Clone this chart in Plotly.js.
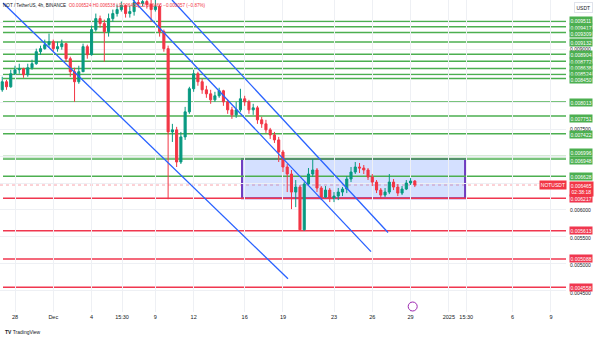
<!DOCTYPE html>
<html>
<head>
<meta charset="utf-8">
<script src="https://cdn.plot.ly/plotly-3.0.1.min.js"></script>
<style>
html,body{margin:0;padding:0;background:#fff;}
#chart{width:600px;height:338px;}
</style>
</head>
<body>
<div id="chart"></div>
<script>
// ---------- DATA (NOT / TetherUS, 8h-grouped candles) ----------
const firstCandle = '2024-11-27 00:00';
const candleHours = 8;
const firstOpen = 0.008240;
const closes = [
0.008390,0.008296,0.008539,0.008614,0.008633,0.008521,0.008651,0.008726,0.008950,0.009007,
0.009081,0.009137,0.009007,0.009044,0.009100,0.008820,0.008577,0.008390,0.008577,0.009044,
0.008894,0.009362,0.009567,0.009474,0.009324,0.009567,0.009661,0.009735,0.009810,0.009661,
0.009698,0.009866,0.009848,0.009885,0.009829,0.009735,0.009791,0.009324,0.009007,0.007455,
0.007493,0.006894,0.007362,0.007829,0.008259,0.008539,0.008390,0.008240,0.008165,0.008053,
0.008128,0.008222,0.008016,0.007866,0.007773,0.007866,0.008072,0.008016,0.007866,0.007904,
0.007680,0.007605,0.007493,0.007399,0.007306,0.007081,0.006801,0.006670,0.006334,0.006427,
0.005630,0.006483,0.006670,0.006745,0.006409,0.006240,0.006371,0.006221,0.006259,0.006334,
0.006390,0.006577,0.006707,0.006801,0.006782,0.006745,0.006614,0.006520,0.006371,0.006278,
0.006334,0.006520,0.006427,0.006315,0.006390,0.006502,0.006539,0.006465];
const highs = [
0.008483,0.008427,0.008614,0.008689,0.008726,0.008651,0.008726,0.008801,0.009007,0.009063,
0.009175,0.009287,0.009175,0.009137,0.009175,0.009119,0.008857,0.008651,0.008689,0.009100,
0.009081,0.009436,0.009661,0.009623,0.009549,0.009661,0.009735,0.009829,0.009885,0.009829,
0.009810,0.009941,0.009960,0.009978,0.009941,0.009922,0.009922,0.009829,0.009362,0.009063,
0.007605,0.007549,0.007455,0.007922,0.008296,0.008614,0.008577,0.008446,0.008315,0.008240,
0.008203,0.008278,0.008240,0.008053,0.007922,0.008016,0.008259,0.008128,0.008053,0.007979,
0.007941,0.007736,0.007680,0.007530,0.007455,0.007362,0.007119,0.006857,0.006745,0.006558,
0.006465,0.006520,0.006782,0.006951,0.006782,0.006446,0.006446,0.006409,0.006334,0.006409,
0.006427,0.006633,0.006801,0.006894,0.006876,0.006838,0.006782,0.006670,0.006558,0.006409,
0.006409,0.006670,0.006577,0.006483,0.006446,0.006558,0.006595,0.006558];
const lows = [
0.008203,0.008240,0.008278,0.008521,0.008539,0.008464,0.008483,0.008614,0.008707,0.008894,
0.008988,0.009025,0.008950,0.008950,0.008988,0.008764,0.008483,0.008016,0.008352,0.008577,
0.008820,0.008876,0.009324,0.009399,0.008764,0.009231,0.009511,0.009605,0.009698,0.009586,
0.009586,0.009623,0.009773,0.009791,0.009754,0.009511,0.009698,0.009231,0.008950,0.006200,
0.007268,0.006801,0.006857,0.007306,0.007792,0.008203,0.008315,0.008165,0.008091,0.007979,
0.008016,0.008091,0.007941,0.007792,0.007698,0.007717,0.007829,0.007941,0.007792,0.007773,
0.007605,0.007530,0.007437,0.007324,0.007249,0.006894,0.006707,0.006334,0.006016,0.006053,
0.005613,0.005613,0.006446,0.006614,0.006334,0.006184,0.006221,0.006147,0.006147,0.006184,
0.006259,0.006315,0.006520,0.006670,0.006689,0.006670,0.006558,0.006446,0.006315,0.006221,
0.006240,0.006296,0.006371,0.006259,0.006278,0.006371,0.006465,0.006427];

// Horizontal levels drawn on the chart
const greenLevels = [0.009511,0.009417,0.009309,0.009132,0.008904,0.008772,0.008638,0.008524,0.008450,0.008013,0.007751,0.007422,0.006996,0.006948,0.006628];
const redLevels = [0.006217,0.005613,0.005088,0.004558];
const levelStart = '2024-11-27 01:26';
const levelEnd = '2025-01-10 04:21';

// Trend lines (time, price)
const trendLines = [
  {t:['2024-11-27 01:26','2024-12-19 09:29'], p:[0.009858,0.004717]},
  {t:['2024-12-07 05:57','2024-12-25 21:35'], p:[0.009914,0.005224]},
  {t:['2024-12-10 07:18','2024-12-27 05:34'], p:[0.009914,0.005580]}
];
// Range box
const boxTime = ['2024-12-15 19:00','2025-01-02 06:29'];
const boxPrice = [0.006217,0.006948];

// Current price
const lastPrice = 0.006465;
const countdown = '02:38:18';
const symbolTag = 'NOTUSDT';
const headerSymbol = 'NOT / TetherUS, 4h, BINANCE';
const headerOHLC = 'O0.006524 H0.006538 L0.006452 C0.006465 −0.000057 (−0.87%)';

// Time axis ticks
const xTickVals = ['2024-11-28','2024-12-01','2024-12-04','2024-12-06 09:15','2024-12-09','2024-12-12','2024-12-16','2024-12-19','2024-12-23','2024-12-26','2024-12-29','2025-01-01','2025-01-02 08:40','2025-01-06','2025-01-09'];
const xTickText = ['28','Dec','4','15:30','9','12','16','19','23','26','29','2025','15:30','6','9'];
// Price axis grid values and the plain price labels visible on the scale
const yGridVals = [0.0045,0.0050,0.0055,0.0060,0.0065,0.0070,0.0075,0.0080,0.0085,0.0090,0.0095];
const yPlainLabels = [0.0090,0.0075,0.0070,0.0060,0.0055,0.0050,0.0045];

// ---------- BUILD ----------
function addHours(str, h){
  const [d,tm] = str.split(' ');
  const [Y,M,D] = d.split('-').map(Number);
  const [hh,mm] = tm.split(':').map(Number);
  const dt = new Date(Date.UTC(Y,M-1,D,hh,mm) + h*3600000);
  return dt.toISOString().slice(0,16).replace('T',' ');
}
const times = closes.map((_,i)=>addHours(firstCandle, i*candleHours));
const opens = [firstOpen].concat(closes.slice(0,-1));

const GREEN='#089981', RED='#f23645', LGREEN='#4caf50', LRED='#f0374f', BLUE='#2962ff', PURPLE='#6f3cc0';
const FONT='Liberation Sans, Arial, sans-serif';

const traces = [{
  type:'candlestick', x:times, open:opens, high:highs, low:lows, close:closes,
  increasing:{line:{color:GREEN,width:1}, fillcolor:GREEN},
  decreasing:{line:{color:RED,width:1}, fillcolor:RED},
  whiskerwidth:0, hoverinfo:'skip'
}];

const shapes = [];
const annotations = [];

shapes.push({type:'rect', xref:'x', yref:'y', x0:boxTime[0], x1:boxTime[1], y0:boxPrice[0], y1:boxPrice[1],
  fillcolor:'rgba(41,98,255,0.20)', line:{color:PURPLE,width:2}, layer:'below'});

greenLevels.forEach(v=>{
  shapes.push({type:'line', xref:'x', yref:'y', x0:levelStart, x1:levelEnd, y0:v, y1:v, line:{color:LGREEN,width:1.5}, layer:'below'});
});
redLevels.forEach(v=>{
  shapes.push({type:'line', xref:'x', yref:'y', x0:levelStart, x1:levelEnd, y0:v, y1:v, line:{color:LRED,width:1.5}, layer:'below'});
});
shapes.push({type:'line', xref:'paper', yref:'y', x0:0, x1:1, y0:lastPrice, y1:lastPrice, line:{color:'rgba(242,54,69,0.45)',width:1,dash:'dot'}, layer:'below'});

trendLines.forEach(l=>{
  shapes.push({type:'line', xref:'x', yref:'y', x0:l.t[0], x1:l.t[1], y0:l.p[0], y1:l.p[1], line:{color:BLUE,width:1.3}});
});

// small clock icon at bottom of pane
shapes.push({type:'circle', xref:'x', yref:'paper', xsizemode:'pixel', ysizemode:'pixel',
  xanchor:'2024-12-29 04:00', yanchor:0, x0:-4.5, x1:4.5, y0:1, y1:10, line:{color:'#9c27b0',width:1}, fillcolor:'#fff'});

// plain scale labels first (colored labels are drawn on top of them)
const plainShift = {0.0090:0, 0.0075:1, 0.0070:2, 0.0060:0, 0.0055:-1.5, 0.0050:-1.5, 0.0045:-2.5};
yPlainLabels.forEach(v=>{
  annotations.push({xref:'paper', yref:'y', x:1, y:v, xanchor:'left', yanchor:'middle', xshift:3,
    yshift: plainShift[v]||0, text:v.toFixed(6), showarrow:false, borderpad:0,
    font:{family:FONT,size:5,color:'#131722'}});
});

const labelShift = {0.009511:1.5,0.009417:-0.5,0.009309:-1,0.009132:-1,0.008904:0,0.008638:1,0.008524:1,0.008450:-1,0.008013:-0.5,0.007751:-2.5,0.007422:-0.5,0.006996:4,0.006948:-1};
function priceLabel(v,bg){
  annotations.push({xref:'paper', yref:'y', x:1, y:v, xanchor:'left', yanchor:'middle', xshift:3,
    yshift: labelShift[v]||0, text:v.toFixed(6), showarrow:false, bgcolor:bg, borderpad:0.6,
    font:{family:FONT,size:5,color:'#fff'}});
}
greenLevels.forEach(v=>priceLabel(v,LGREEN));
redLevels.forEach(v=>priceLabel(v,LRED));
annotations.push({xref:'paper', yref:'y', x:1, y:lastPrice, xanchor:'left', yanchor:'top', xshift:3, yshift:4,
  text:lastPrice.toFixed(6)+'<br>'+countdown, showarrow:false, bgcolor:RED, borderpad:0.8, align:'center',
  font:{family:FONT,size:5,color:'#fff'}});
annotations.push({xref:'paper', yref:'y', x:1, y:lastPrice, xanchor:'right', yanchor:'middle', xshift:1, yshift:0,
  text:symbolTag, showarrow:false, bgcolor:RED, borderpad:0.8, font:{family:FONT,size:5,color:'#fff'}});
annotations.push({xref:'paper', yref:'paper', x:1, y:1, xanchor:'left', yanchor:'top', xshift:8, yshift:-2,
  text:'USDT', showarrow:false, bgcolor:'#fff', bordercolor:'#e0e3eb', borderwidth:1, borderpad:1.5,
  font:{family:FONT,size:5,color:'#131722'}});
annotations.push({xref:'paper', yref:'paper', x:0, y:1, xanchor:'left', yanchor:'top', xshift:1, yshift:-1,
  text:'<span style="color:#131722">'+headerSymbol+'</span>  <span style="color:#f23645">'+headerOHLC+'</span>',
  showarrow:false, font:{family:FONT,size:4.6,color:'#131722'}});
annotations.push({xref:'paper', yref:'paper', x:0.005, y:-0.064, xanchor:'left', yanchor:'middle',
  text:'<b>TV</b> TradingView', showarrow:false, font:{family:FONT,size:5,color:'#131722'}});

const layout = {
  width:600, height:338,
  margin:{l:0, r:34, t:0, b:26, pad:0},
  paper_bgcolor:'#fff', plot_bgcolor:'#fff',
  showlegend:false,
  font:{family:FONT, color:'#131722'},
  xaxis:{type:'date', range:['2024-11-26 19:47',levelEnd], rangeslider:{visible:false},
    tickmode:'array', tickvals:xTickVals, ticktext:xTickText, tickfont:{size:5.5,color:'#131722'},
    showgrid:true, gridcolor:'#eef0f4', gridwidth:1, zeroline:false, showline:false, ticks:'', fixedrange:true},
  yaxis:{side:'right', range:[0.004098,0.009914], tickmode:'array', tickvals:yGridVals,
    showticklabels:false,
    showgrid:true, gridcolor:'#eef0f4', gridwidth:1, zeroline:false, showline:false, ticks:'', fixedrange:true},
  shapes:shapes, annotations:annotations
};

Plotly.newPlot('chart', traces, layout, {staticPlot:true, displayModeBar:false});
</script>
</body>
</html>
